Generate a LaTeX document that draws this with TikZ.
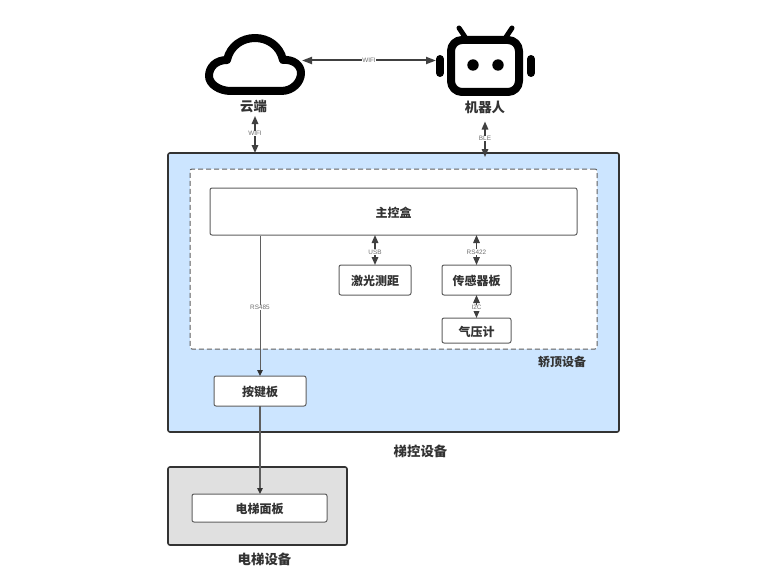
\documentclass[tikz,border=0pt]{standalone}
\usepackage{fontspec}
\newfontfamily\cjk{Noto Sans CJK SC}
\usetikzlibrary{arrows.meta}
\definecolor{ink}{HTML}{333333}
\definecolor{lineink}{HTML}{404040}
\definecolor{thinink}{HTML}{5F5F5F}
\definecolor{labelink}{HTML}{707070}
\definecolor{blue1}{HTML}{CCE5FF}
\definecolor{grey1}{HTML}{E0E0E0}
\newcommand{\lowered}[1]{\raisebox{0pt}[11pt][0pt]{#1}}
\tikzset{
  panel/.style={draw=ink,line width=1.6pt,rounded corners=2pt,outer sep=0pt,inner sep=0pt},
  boxnode/.style={draw=thinink,line width=1pt,fill=white,rounded corners=2pt,outer sep=0pt,inner sep=0pt,text=ink,font=\cjk\bfseries\fontsize{12}{14}\selectfont},
  title/.style={text=ink,inner sep=0pt,font=\cjk\bfseries\fontsize{13.4}{16}\selectfont},
  smalltitle/.style={text=ink,inner sep=0pt,font=\cjk\bfseries\fontsize{12}{14}\selectfont},
  linklabel/.style={fill=white,inner sep=0.6pt,text=labelink,font=\fontspec{Liberation Sans}\fontsize{6.4}{7}\selectfont},
  twoway/.style={draw=lineink,line width=1.5pt,{Triangle[length=8pt,width=6.5pt]}-{Triangle[length=8pt,width=6.5pt]}},
  twowaywide/.style={draw=lineink,line width=2pt,{Triangle[length=10pt,width=7pt]}-{Triangle[length=10pt,width=7pt]}},
  oneway/.style={draw=thinink,line width=1pt,-{Triangle[length=6pt,width=5.5pt,color=ink]}},
  onewayheavy/.style={oneway,line width=1.3pt},
  icon/.style={draw=black,line width=8pt,fill=white,line join=round},
  iconbar/.style={draw=black,line width=8pt,line cap=round},
  antenna/.style={draw=black,line width=5pt,line cap=round}
}
\begin{document}
\begin{tikzpicture}[x=1pt,y=-1pt]
\useasboundingbox (0,0) rectangle (762,575);
\fill[white] (0,0) rectangle (762,575);
% containers
\node[panel,fill=blue1,minimum width=451pt,minimum height=279pt] (outer) at (393.5,292.5) {};
\node[draw=thinink,line width=1pt,dash pattern=on 5pt off 3pt,fill=white,rounded corners=2pt,outer sep=0pt,minimum width=407pt,minimum height=180pt] (top) at (393.5,259) {};
\node[panel,fill=grey1,minimum width=179pt,minimum height=78pt] (elev) at (257.5,506) {};
% boxes
\node[boxnode,minimum width=367pt,minimum height=47pt] (main) at (393.5,211.5) {\lowered{主控盒}};
\node[boxnode,minimum width=72pt,minimum height=30pt] (laser) at (375,280) {\lowered{激光测距}};
\node[boxnode,minimum width=69pt,minimum height=30pt] (sensor) at (476.5,280) {\lowered{传感器板}};
\node[boxnode,minimum width=69pt,minimum height=25pt] (baro) at (476.5,330.5) {\lowered{气压计}};
\node[boxnode,minimum width=92pt,minimum height=30pt] (keys) at (260,391) {\lowered{按键板}};
\node[boxnode,minimum width=135pt,minimum height=28pt] (panelbox) at (259.5,508) {\lowered{电梯面板}};
% cloud icon
\draw[icon] (231,91) -- (281,91)
  .. controls (293,91) and (301,82) .. (301,73)
  .. controls (301,65) and (293,59) .. (283,60)
  .. controls (280,46) and (268,38) .. (255,38)
  .. controls (242,38) and (230,46) .. (227,60)
  .. controls (216,60) and (209,67) .. (209,76)
  .. controls (209,84) and (219,91) .. (231,91) -- cycle;
% robot icon
\draw[icon,rounded corners=11pt] (451,40) rectangle (519,92);
\draw[iconbar] (440,59) -- (440,73);
\draw[iconbar] (531,59) -- (531,73);
\draw[antenna] (459,28) -- (465,37);
\draw[antenna] (512,28) -- (506,37);
\fill[black] (473,65) circle (5.7pt);
\fill[black] (498,65) circle (5.7pt);
% titles
\node[title] (cloudname) at (253.5,106) {云端};
\node[title] (robotname) at (485,107) {机器人};
\node[smalltitle] (toplabel) at (562,361.5) {轿顶设备};
\node[title] (ctrllabel) at (420.5,451.5) {梯控设备};
\node[title] (eleclabel) at (264.5,559.5) {电梯设备};
% free ends
\coordinate (cloudright) at (302,60.5);
\coordinate (robotleft) at (436,60.5);
\coordinate (cloudport) at (255,116);
\coordinate (robotport) at (485,121.5);
\coordinate (robotdrop) at (485,157);
\coordinate (rsstart) at (260,236);
% connectors
\draw[twowaywide] (cloudright) -- node[linklabel] {WIFI} (robotleft);
\draw[twoway] (cloudport) -- node[linklabel,pos=0.47] {WIFI} (cloudport |- outer.north);
\draw[twoway] (robotport) -- node[linklabel,pos=0.48] {BLE} (robotdrop);
\draw[twoway] (main.south -| laser.north) -- node[linklabel,pos=0.57] {USB} (laser.north);
\draw[twoway] (main.south -| sensor.north) -- node[linklabel,pos=0.57] {RS422} (sensor.north);
\draw[twoway] (sensor.south) -- node[linklabel,pos=0.55] {I2C} (baro.north);
\draw[oneway] (rsstart) -- node[linklabel,pos=0.51] {RS485} (keys.north);
\draw[onewayheavy] (keys.south) -- (keys.south |- panelbox.north);
\end{tikzpicture}
\end{document}
